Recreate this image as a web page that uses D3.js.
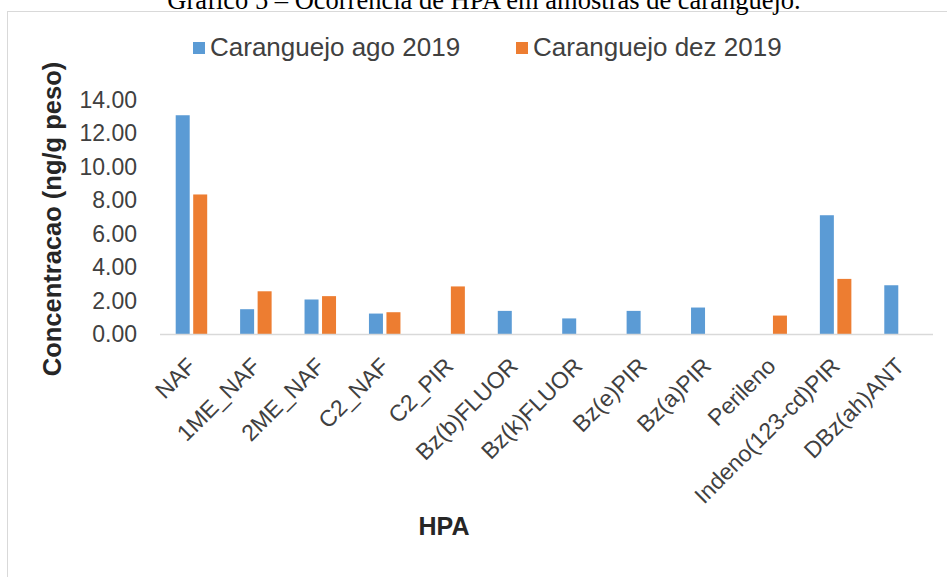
<!DOCTYPE html>
<html><head><meta charset="utf-8">
<script src="https://cdn.jsdelivr.net/npm/d3@7"></script>
<style>body{margin:0;background:#fff}svg{display:block}</style>
</head><body>
<script>
const categories = ["NAF","1ME_NAF","2ME_NAF","C2_NAF","C2_PIR","Bz(b)FLUOR","Bz(k)FLUOR","Bz(e)PIR","Bz(a)PIR","Perileno","Indeno(123-cd)PIR","DBz(ah)ANT"];
const seriesNames = ["Caranguejo ago 2019","Caranguejo dez 2019"];
const agoValues = [13.09,1.51,2.09,1.25,0,1.41,0.96,1.41,1.61,0,7.12,2.94];
const dezValues = [8.36,2.58,2.29,1.33,2.87,0,0,0,0,1.13,3.32,0];
const yTicks = [0,2,4,6,8,10,12,14];
const colors = ["#5B9BD5","#ED7D31"];

const W=947,H=577;
const svg=d3.select("body").append("svg").attr("width",W).attr("height",H);

// frame
svg.append("rect").attr("x",7.5).attr("y",11.5).attr("width",W).attr("height",H)
  .attr("fill","#fff").attr("stroke","#D9D9D9").attr("stroke-width",1);

// title (cut off at the top, as in the source image)
svg.append("text").attr("x",484).attr("y",8.5).attr("text-anchor","middle")
  .attr("font-family","Liberation Serif, Times New Roman, serif").attr("font-size",26.5)
  .attr("fill","#000").text("Gráfico 5 – Ocorrência de HPA em amostras de caranguejo.");

const x0=d3.scaleBand().domain(categories).range([160,933]).paddingInner(0).paddingOuter(0);
const x1=d3.scaleBand().domain(seriesNames).range([15.7,47.2]).paddingInner(0.2);
const y=d3.scaleLinear().domain([0,14]).range([334.5,100]);

const data=categories.map((c,i)=>({c,vals:[agoValues[i],dezValues[i]]}));
const g=svg.append("g");
g.selectAll("g.cat").data(data).join("g").attr("class","cat")
 .attr("transform",d=>`translate(${x0(d.c)},0)`)
 .selectAll("rect").data(d=>d.vals.map((v,k)=>({v,k}))).join("rect")
 .attr("x",d=>x1(seriesNames[d.k])).attr("width",x1.bandwidth())
 .attr("y",d=>y(d.v)).attr("height",d=>y(0)-y(d.v))
 .attr("fill",d=>colors[d.k]);

// x axis line
svg.append("line").attr("x1",160).attr("x2",933).attr("y1",y(0)).attr("y2",y(0))
  .attr("stroke","#D9D9D9").attr("stroke-width",1.5);

// y axis labels
const yAxis=d3.axisLeft(y).tickValues(yTicks).tickFormat(d3.format(".2f")).tickSize(0).tickPadding(0);
const ya=svg.append("g").attr("transform","translate(137,0)").call(yAxis);
ya.select(".domain").remove();
ya.selectAll("text").attr("font-family","Arial, Liberation Sans, sans-serif").attr("font-size",23).attr("fill","#404040");

// x labels
const xAxis=d3.axisBottom(x0).tickSize(0).tickPadding(0);
const xa=svg.append("g").attr("transform",`translate(0,${y(0)})`).call(xAxis);
xa.select(".domain").remove();
xa.selectAll("text").attr("font-family","Arial, Liberation Sans, sans-serif").attr("font-size",23)
  .attr("fill","#404040").attr("text-anchor","end").attr("dy",null).attr("y",null)
  .attr("transform","translate(5,33) rotate(-45)");

// axis titles
svg.append("text").attr("x",444).attr("y",535).attr("text-anchor","middle")
  .attr("font-family","Arial, Liberation Sans, sans-serif").attr("font-weight","bold").attr("font-size",25)
  .attr("fill","#262626").text("HPA");
svg.append("text").attr("transform","translate(61,219) rotate(-90)").attr("text-anchor","middle")
  .attr("font-family","Arial, Liberation Sans, sans-serif").attr("font-weight","bold").attr("font-size",25.5)
  .attr("fill","#262626").text("Concentracao  (ng/g peso)");

// legend
const leg=svg.append("g");
const legPos=[193,516];
seriesNames.forEach((s,i)=>{
  leg.append("rect").attr("x",legPos[i]).attr("y",42).attr("width",12).attr("height",12).attr("fill",colors[i]);
  leg.append("text").attr("x",legPos[i]+17).attr("y",56)
    .attr("font-family","Arial, Liberation Sans, sans-serif").attr("font-size",26).attr("fill","#404040").text(s);
});
</script>
</body></html>
